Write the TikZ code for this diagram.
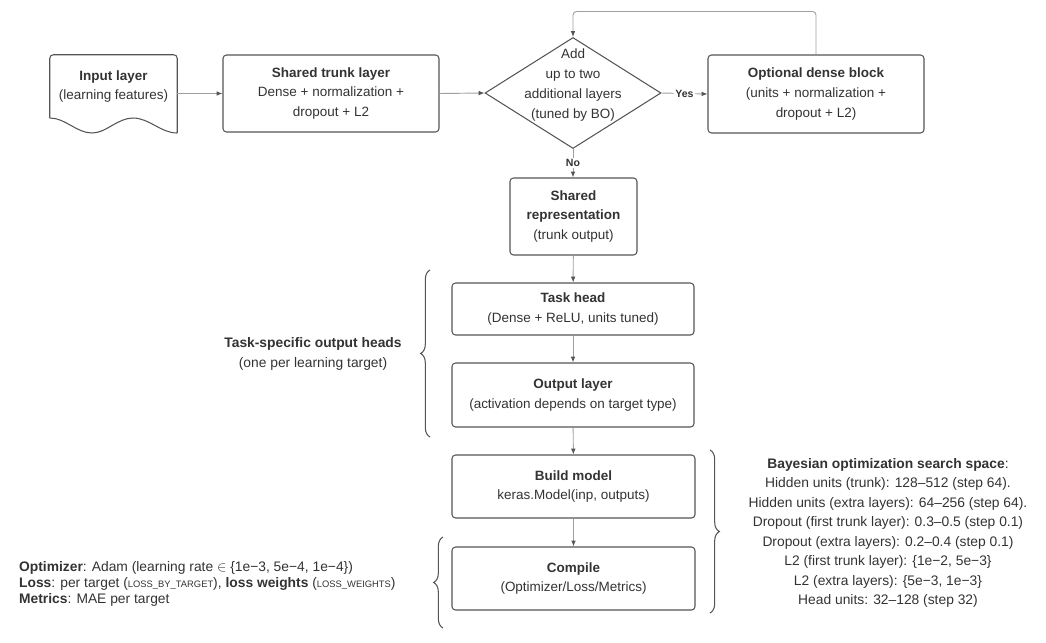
\documentclass[tikz,border=0pt]{standalone}
\usepackage{fontspec}
\setmainfont{Liberation Sans}
\usetikzlibrary{arrows.meta,shapes.geometric,decorations.pathreplacing,positioning,calc}
\definecolor{ink}{HTML}{333333}
\definecolor{edge}{HTML}{555555}
\definecolor{wire}{HTML}{A0A0A0}

\begin{document}
\begin{tikzpicture}[
        x=0.03cm, y=-0.03cm,
        every node/.style={text=ink, align=center, font=\fontsize{11.5pt}{17pt}\selectfont},
        box/.style={draw=edge, line width=0.9pt, rounded corners=3pt, inner sep=2pt},
        decision/.style={draw=edge, line width=0.9pt, diamond, minimum width=5.28cm, minimum height=3.33cm, inner sep=0pt},
        flow/.style={draw=wire, line width=0.8pt, -{Latex[length=5pt,width=4pt,color=edge]}},
        lbl/.style={fill=white, inner sep=1pt, font=\fontsize{9pt}{10pt}\selectfont\bfseries},
        note/.style={font=\fontsize{11.8pt}{16.6pt}\selectfont},
        curly/.style={draw=edge, line width=0.9pt, decorate, decoration={brace, amplitude=8pt}}
    ]
    \useasboundingbox (0,0) rectangle (1046,642);

    % top row
    \node[minimum width=3.81cm, minimum height=1.89cm] (inp) at (113.5,86.5)
        {\textbf{Input layer}\\(learning features)};
    \draw[edge, line width=0.9pt, rounded corners=3pt]
        (inp.south west) -- (inp.north west) -- (inp.north east) -- ($(inp.south east)+(0,15)$);
    \draw[edge, line width=0.9pt]
        (50,118) cos (71,125.5) sin (92,133) cos (112,125.5) sin (133,118) cos (155,125.5) sin (177,133);
    \node[box, minimum width=6.48cm, minimum height=2.31cm] (trunk) at (331,93.5)
        {\textbf{Shared trunk layer}\\Dense + normalization +\\dropout + L2};
    \node[decision] (dec) at (573,93) {};
    \node (dectxt) at (573,85) {Add\\up to two\\additional layers\\(tuned by BO)};
    \node[box, minimum width=6.48cm, minimum height=2.34cm] (opt) at (816,94)
        {\textbf{Optional dense block}\\(units + normalization +\\dropout + L2)};

    % main column
    \node[box, minimum width=3.81cm, minimum height=2.31cm] (shared) at (573.5,216.5)
        {\textbf{Shared}\\\textbf{representation}\\(trunk output)};
    \node[box, minimum width=7.26cm, minimum height=1.56cm] (head) at (573,309)
        {\textbf{Task head}\\(Dense + ReLU, units tuned)};
    \node[box, minimum width=7.26cm, minimum height=1.92cm] (outlay) at (573,395)
        {\textbf{Output layer}\\(activation depends on target type)};
    \node[box, minimum width=7.29cm, minimum height=1.89cm] (build) at (573.5,486.5)
        {\textbf{Build model}\\keras.Model(inp, outputs)};
    \node[box, minimum width=7.29cm, minimum height=1.89cm] (compile) at (573.5,578.5)
        {\textbf{Compile}\\(Optimizer/Loss/Metrics)};

    % connectors
    \draw[flow] (inp.east |- trunk.west) -- (trunk.west);
    \draw[flow] (trunk.east) -- (dec.west);
    \draw[flow] (dec.east) -- node[lbl] {Yes} (opt.west);
    \draw[flow, rounded corners=3pt] (opt.north) -- ++(0,-43) -| (dec.north);
    \draw[flow] (dec.south) -- node[lbl] {No} (dec.south |- shared.north);
    \draw[flow] (shared) -- (head);
    \draw[flow] (head) -- (outlay);
    \draw[flow] (outlay) -- (build);
    \draw[flow] (build) -- (compile);

    % braces and notes
    \draw[curly] (430,437) -- (430,270);
    \node[note] (heads) at (313,354)
        {\textbf{Task-specific output heads}\\(one per learning target)};
    \draw[curly] (710,450) -- (710,613);
    \node[note] (bayes) at (888,533)
        {\textbf{Bayesian optimization search space}:\\
         Hidden units (trunk): 128–512 (step 64).\\
         Hidden units (extra layers): 64–256 (step 64).\\
         Dropout (first trunk layer): 0.3–0.5 (step 0.1)\\
         Dropout (extra layers): 0.2–0.4 (step 0.1)\\
         L2 (first trunk layer): \{1e−2, 5e−3\}\\
         L2 (extra layers): \{5e−3, 1e−3\}\\
         Head units: 32–128 (step 32)};
    \draw[curly] (443,628) -- (443,537);
    \node[note, anchor=west, align=left, font=\fontsize{11.8pt}{14pt}\selectfont] (optim) at (15,584)
        {\textbf{Optimizer}: Adam (learning rate $\in$ \{1e−3, 5e−4, 1e−4\})\\
         \textbf{Loss}: per target ({\footnotesize LOSS\_BY\_TARGET}), \textbf{loss weights} ({\footnotesize LOSS\_WEIGHTS})\\
         \textbf{Metrics}: MAE per target};
\end{tikzpicture}
\end{document}
